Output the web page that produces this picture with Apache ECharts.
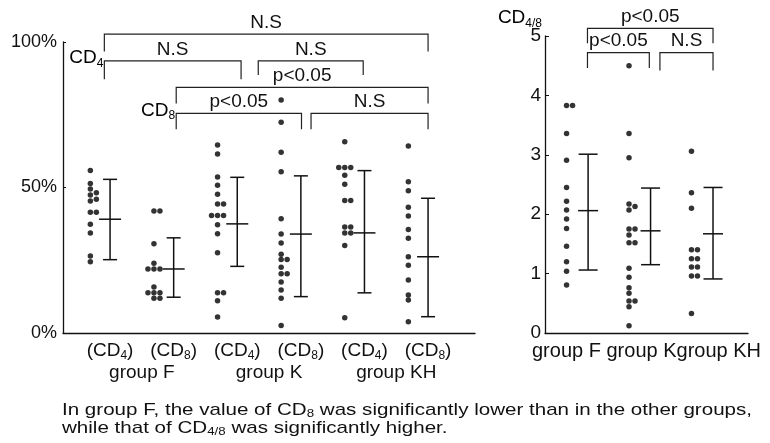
<!DOCTYPE html>
<html>
<head>
<meta charset="utf-8">
<title>CD4 / CD8</title>
<script src="https://cdn.jsdelivr.net/npm/echarts@6/dist/echarts.min.js"></script>
<style>
html, body { margin: 0; padding: 0; background: #fff; }
#chart { width: 770px; height: 443px; }
</style>
</head>
<body>
<div id="chart"></div>
<script>
// labels
var lCats = ['CD4', 'CD8', 'CD4', 'CD8', 'CD4', 'CD8'];
var lGroups = ['group F', 'group K', 'group KH'];
var rGroups = ['group F', 'group K', 'group KH'];
var rName = 'CD4/8';
var lTicks = [0, 50, 100];

// left panel, % (one dot per subject)
var fCD4 = [55.8, 51.4, 49.5, 48.2, 47.4, 46.0, 45.4, 41.5, 41.5, 37.4, 34.4, 26.5, 24.5];
var fCD8 = [41.9, 41.9, 30.7, 24.0, 22.0, 22.0, 22.0, 15.8, 13.8, 13.8, 13.8, 11.9, 11.9];
var kCD4 = [64.6, 61.5, 53.6, 50.8, 47.7, 44.3, 44.3, 40.4, 40.4, 40.4, 37.2, 34.1, 27.6, 13.8, 13.8, 11.1, 5.5];
var kCD8 = [80.1, 72.4, 62.1, 55.4, 39.3, 34.0, 30.9, 27.1, 25.3, 25.3, 22.6, 20.4, 20.4, 17.5, 14.8, 11.9, 2.6];
var khCD4 = [65.7, 56.9, 56.9, 56.9, 54.2, 51.1, 45.5, 45.5, 36.4, 36.4, 34.4, 34.4, 30.1, 5.2];
var khCD8 = [64.3, 52.0, 48.9, 43.2, 40.2, 35.6, 32.6, 26.2, 23.3, 18.2, 13.1, 11.3, 3.9];
// mean +- SD
var lMean = [39.1, 22.0, 37.5, 34.0, 34.4, 26.2];
var lLow = [25.2, 12.3, 22.9, 12.5, 13.8, 5.6];
var lHigh = [52.8, 32.7, 53.5, 54.0, 55.8, 46.3];

// right panel, CD4/8 ratio
var rF = [3.83, 3.83, 3.36, 2.91, 2.45, 2.22, 2.07, 1.92, 1.76, 1.46, 1.20, 1.04, 0.81];
var rK = [4.50, 3.36, 2.95, 2.17, 2.13, 2.07, 1.75, 1.75, 1.65, 1.52, 1.52, 1.09, 0.94, 0.76, 0.67, 0.54, 0.54, 0.44, 0.12];
var rKH = [3.06, 2.36, 2.10, 1.40, 1.40, 1.25, 1.25, 1.11, 1.11, 0.96, 0.96, 0.33];
var rMean = [2.06, 1.72, 1.67];
var rLow = [1.06, 1.15, 0.91];
var rHigh = [3.01, 2.44, 2.45];

// significance brackets: [from, to, level, end left, end right, text, side label]
var lBrackets = [
	[-0.09, 5.0, 102.7, 96.7, 96.7, 'N.S', ''],
	[-0.09, 2.06, 93.5, 87.2, 87.2, 'N.S', 'CD4'],
	[2.33, 3.98, 93.5, 88.7, 88.7, 'N.S', ''],
	[1.04, 5.0, 84.4, 78.9, 78.9, 'p<0.05', ''],
	[1.04, 3.01, 75.5, 70.0, 70.0, 'p<0.05', 'CD8'],
	[3.16, 5.0, 75.5, 70.0, 70.0, 'N.S', '']
];
var rBrackets = [
	[-0.01, 2.0, 5.13, 4.88, 4.88, 'p<0.05'],
	[-0.01, 0.98, 4.72, 4.46, 4.46, 'p<0.05'],
	[1.15, 2.0, 4.72, 4.42, 4.42, 'N.S']
];

var caption = [
	'In group F, the value of CD{s|8} was significantly lower than in the other groups,',
	'while that of CD{s|4/8} was significantly higher.'
];

var FF = '"Liberation Sans", Arial, sans-serif';
var INK = '#111';

// grid geometry
var L = { left: 63, top: 42, width: 412, height: 291, xmin: -0.74, xmax: 5.738 };
var R = { left: 545, top: 36, width: 203, height: 297, xmin: -0.69, xmax: 2.56 };
var lkx = L.width / (L.xmax - L.xmin), lky = L.height / 100;
var rkx = R.width / (R.xmax - R.xmin), rky = R.height / 5;

function sub(t) {
	return '{n|' + t.slice(0, 2) + '}{s|' + t.slice(2) + '}';
}
function rich(size) {
	return {
		n: { fontSize: size, fontFamily: FF, color: INK, lineHeight: size },
		s: { fontSize: Math.round(size * 0.65), fontFamily: FF, color: INK, verticalAlign: 'bottom', lineHeight: size + 4 }
	};
}

// simple beeswarm: dots that would touch go side by side
function swarm(vals, base, kx, ky) {
	var placed = [], order = [0, 1, -1, 2, -2, 3, -3];
	vals.forEach(function (v) {
		for (var j = 0; j < order.length; j++) {
			var k = order[j];
			var hit = placed.some(function (p) {
				return p.k === k && Math.abs(p.v - v) * ky < 5.2;
			});
			if (!hit) { placed.push({ k: k, v: v }); break; }
		}
	});
	return placed.map(function (p) { return [base + p.k * 6 / kx, p.v]; });
}

var lDots = [];
[fCD4, fCD8, kCD4, kCD8, khCD4, khCD8].forEach(function (arr, i) {
	lDots = lDots.concat(swarm(arr, i - 0.31, lkx, lky));
});
var rDots = [];
[rF, rK, rKH].forEach(function (arr, i) {
	rDots = rDots.concat(swarm(arr, i - 0.345, rkx, rky));
});

function errRender(capW, meanW) {
	return function (params, api) {
		var x = api.value(0);
		var lo = api.coord([x, api.value(1)]);
		var mid = api.coord([x, api.value(2)]);
		var hi = api.coord([x, api.value(3)]);
		var st = { stroke: INK, lineWidth: 1.5 };
		return {
			type: 'group',
			children: [
				{ type: 'line', shape: { x1: lo[0], y1: lo[1], x2: hi[0], y2: hi[1] }, style: st },
				{ type: 'line', shape: { x1: hi[0] - capW, y1: hi[1], x2: hi[0] + capW, y2: hi[1] }, style: st },
				{ type: 'line', shape: { x1: lo[0] - capW, y1: lo[1], x2: lo[0] + capW, y2: lo[1] }, style: st },
				{ type: 'line', shape: { x1: mid[0] - meanW, y1: mid[1], x2: mid[0] + meanW, y2: mid[1] }, style: st }
			]
		};
	};
}

function brRender(list) {
	return function (params, api) {
		var b = list[params.dataIndex];
		var a = api.coord([b[0], b[3]]);
		var t1 = api.coord([b[0], b[2]]);
		var t2 = api.coord([b[1], b[2]]);
		var c = api.coord([b[1], b[4]]);
		var kids = [
			{ type: 'polyline', shape: { points: [a, t1, t2, c] }, style: { stroke: '#222', lineWidth: 1.2, fill: null } },
			{ type: 'text', x: (t1[0] + t2[0]) / 2, y: t1[1] - 2,
				style: { text: b[5], font: '19px ' + FF, fill: INK, align: 'center', verticalAlign: 'bottom' } }
		];
		if (b[6]) {
			kids.push({ type: 'text', x: t1[0] - 1, y: t1[1] - 3,
				style: { text: sub(b[6]), rich: rich(19), align: 'right', verticalAlign: 'middle' } });
		}
		return { type: 'group', children: kids };
	};
}

var chart = echarts.init(document.getElementById('chart'));
var axisLine = { show: true, onZero: false, lineStyle: { color: INK, width: 1.3 } };

var option = {
	backgroundColor: '#fff',
	animation: false,
	grid: [
		{ left: L.left, top: L.top, width: L.width, height: L.height },
		{ left: R.left, top: R.top, width: R.width, height: R.height }
	],
	xAxis: [
		{
			type: 'value', gridIndex: 0, min: L.xmin, max: L.xmax,
			axisLine: axisLine, axisTick: { show: false }, splitLine: { show: false },
			axisLabel: {
				customValues: lCats.map(function (c, i) { return i; }),
				margin: 6,
				formatter: function (v) { return '{n|(}' + sub(lCats[Math.round(v)]) + '{n|)}'; },
				rich: rich(19)
			}
		},
		{
			type: 'value', gridIndex: 0, min: L.xmin, max: L.xmax, position: 'bottom',
			axisLine: { show: false }, axisTick: { show: false }, splitLine: { show: false },
			axisLabel: {
				customValues: lGroups.map(function (g, i) { return 2 * i + 0.5; }),
				margin: 30, color: INK, fontSize: 19, fontFamily: FF,
				formatter: function (v) { return lGroups[Math.round((v - 0.5) / 2)]; }
			}
		},
		{
			type: 'value', gridIndex: 1, min: R.xmin, max: R.xmax,
			axisLine: axisLine, axisTick: { show: false }, splitLine: { show: false },
			axisLabel: { show: false }
		}
	],
	yAxis: [
		{
			type: 'value', gridIndex: 0, min: 0, max: 100,
			axisLine: axisLine, splitLine: { show: false },
			axisTick: { show: true, inside: true, length: 3, customValues: lTicks, lineStyle: { color: INK } },
			axisLabel: {
				customValues: lTicks, margin: 6, color: INK, fontSize: 18, fontFamily: FF,
				formatter: '{value}%'
			}
		},
		{
			type: 'value', gridIndex: 1, min: 0, max: 5, interval: 1,
			axisLine: axisLine, splitLine: { show: false },
			axisTick: { show: true, inside: true, length: 4, lineStyle: { color: INK } },
			axisLabel: { margin: 4, color: INK, fontSize: 19, fontFamily: FF }
		}
	],
	graphic: [
		{
			// y-axis title of the right panel
			type: 'text', x: R.left - 3, y: 18,
			style: { text: sub(rName), rich: rich(19), align: 'right', verticalAlign: 'middle' }
		},
		{
			type: 'text', left: 532, top: 341,
			style: { text: rGroups[0] + ' ' + rGroups[1] + rGroups[2], font: '20px ' + FF, fill: INK }
		},
		{
			type: 'text', x: 62, y: 401, scaleX: 1.21,
			style: {
				text: caption.join('\n'), font: '17px ' + FF, fill: INK, lineHeight: 18,
				rich: { s: { fontSize: 11, fontFamily: FF, color: INK, verticalAlign: 'bottom', lineHeight: 18 } }
			}
		}
	],
	series: [
		{
			type: 'scatter', xAxisIndex: 0, yAxisIndex: 0, data: lDots,
			symbolSize: 5.5, itemStyle: { color: '#000' }, silent: true
		},
		{
			type: 'custom', xAxisIndex: 0, yAxisIndex: 0, clip: false, silent: true,
			renderItem: errRender(7, 11), encode: { x: 0, y: [1, 2, 3] },
			data: lMean.map(function (m, i) { return [i, lLow[i], m, lHigh[i]]; })
		},
		{
			type: 'custom', xAxisIndex: 0, yAxisIndex: 0, clip: false, silent: true,
			renderItem: brRender(lBrackets), encode: { x: 0, y: 1 },
			data: lBrackets.map(function (b) { return [b[0], b[2]]; })
		},
		{
			type: 'scatter', xAxisIndex: 2, yAxisIndex: 1, data: rDots,
			symbolSize: 5.5, itemStyle: { color: '#000' }, silent: true
		},
		{
			type: 'custom', xAxisIndex: 2, yAxisIndex: 1, clip: false, silent: true,
			renderItem: errRender(9.5, 10), encode: { x: 0, y: [1, 2, 3] },
			data: rMean.map(function (m, i) { return [i, rLow[i], m, rHigh[i]]; })
		},
		{
			type: 'custom', xAxisIndex: 2, yAxisIndex: 1, clip: false, silent: true,
			renderItem: brRender(rBrackets), encode: { x: 0, y: 1 },
			data: rBrackets.map(function (b) { return [b[0], b[2]]; })
		}
	]
};
chart.setOption(option);
</script>
</body>
</html>
